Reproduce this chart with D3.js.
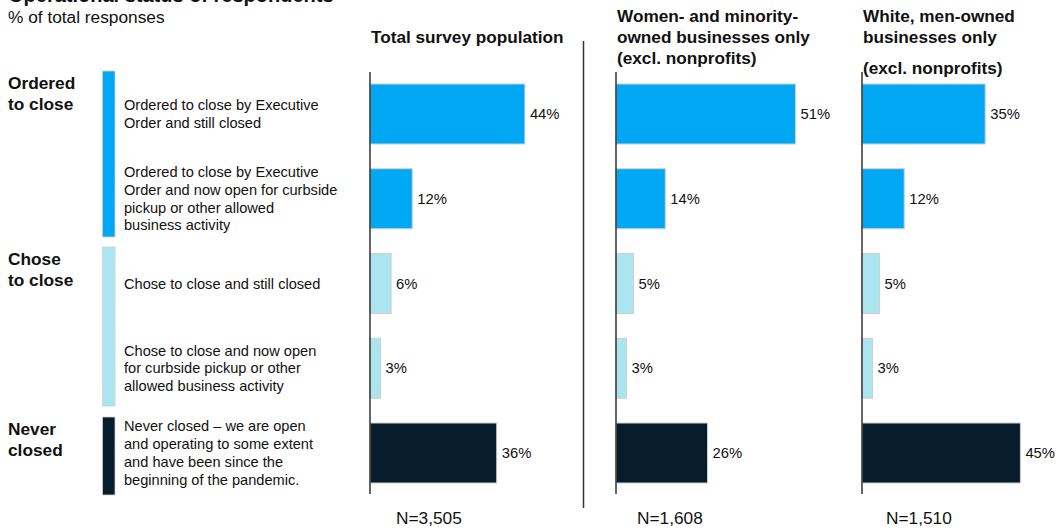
<!DOCTYPE html>
<html lang="en">
  <head>
    <meta charset="UTF-8" />
    <title>Operational status of respondents</title>
    <script src="https://cdn.jsdelivr.net/npm/d3@7"></script>
    <style>
      body {
        margin: 0;
        background: #fff;
      }
      svg {
        font-family: Arial, "Liberation Sans", sans-serif;
      }
    </style>
  </head>
  <body>
    <script>
      // data
      const items = [
        ["Ordered to close by Executive", "Order and still closed"],
        ["Ordered to close by Executive", "Order and now open for curbside", "pickup or other allowed", "business activity"],
        ["Chose to close and still closed"],
        ["Chose to close and now open", "for curbside pickup or other", "allowed business activity"],
        ["Never closed \u2013 we are open", "and operating to some extent", "and have been since the", "beginning of the pandemic."]
      ];
      const itemGroup = [0, 0, 1, 1, 2];
      const groups = [["Ordered", "to close"], ["Chose", "to close"], ["Never", "closed"]];
      const panelTitles = [
        ["Total survey population"],
        ["Women- and minority-", "owned businesses only", "(excl. nonprofits)"],
        ["White, men-owned", "businesses only", "(excl. nonprofits)"]
      ];
      const totalValues = [44, 12, 6, 3, 36];
      const minorityValues = [51, 14, 5, 3, 26];
      const whiteMenValues = [35, 12, 5, 3, 45];
      const sampleSizes = ["N=3,505", "N=1,608", "N=1,510"];

      const panels = [totalValues, minorityValues, whiteMenValues];
      const colors = ["#00a8f3", "#abe5ef", "#071d2c"];

      const width = 1058;
      const height = 529;
      const panelX = [370, 616, 862];

      const svg = d3.select("body")
        .append("svg")
        .attr("width", width)
        .attr("height", height);

      // header (title is cut by the top edge, as in the original)
      svg.append("text")
        .attr("x", 8)
        .attr("y", 2)
        .style("font-size", "20px")
        .style("font-weight", "bold")
        .attr("fill", "#111")
        .text("Operational status of respondents");
      svg.append("text")
        .attr("x", 8)
        .attr("y", 23)
        .style("font-size", "17.3px")
        .attr("fill", "#111")
        .text("% of total responses");

      const y = d3.scaleBand()
        .domain(d3.range(items.length))
        .range([84, 483])
        .paddingInner(0.292)
        .paddingOuter(0);

      const x = d3.scaleLinear().domain([0, 10]).range([0, 35.2]);

      // left colour strips and group labels
      const stripExtent = [[71, 237], [247, 406], [417, 495]];
      groups.forEach((g, i) => {
        svg.append("rect")
          .attr("x", 102.5)
          .attr("y", stripExtent[i][0])
          .attr("width", 12.5)
          .attr("height", stripExtent[i][1] - stripExtent[i][0])
          .attr("fill", colors[i])
          .attr("stroke", "#d0d0d0")
          .attr("stroke-width", 0.8);
        svg.append("text")
          .attr("x", 8)
          .attr("y", stripExtent[i][0] + 18)
          .style("font-size", "17.3px")
          .style("font-weight", "bold")
          .attr("fill", "#111")
          .selectAll("tspan")
          .data(g)
          .join("tspan")
          .attr("x", 8)
          .attr("dy", (d, j) => (j ? 21 : 0))
          .text(d => d);
      });

      // item labels
      items.forEach((lines, i) => {
        const cy = y(i) + y.bandwidth() / 2;
        const lh = 17.7;
        svg.append("text")
          .attr("x", 124)
          .attr("y", cy - ((lines.length - 1) * lh) / 2 + 5)
          .style("font-size", "14.6px")
          .attr("fill", "#111")
          .selectAll("tspan")
          .data(lines)
          .join("tspan")
          .attr("x", 124)
          .attr("dy", (d, j) => (j ? lh : 0))
          .text(d => d);
      });

      // panels
      panels.forEach((values, p) => {
        const g = svg.append("g").attr("transform", "translate(" + panelX[p] + ",0)");

        g.selectAll("rect")
          .data(values)
          .join("rect")
          .attr("x", 0)
          .attr("y", (d, i) => y(i))
          .attr("width", d => x(d))
          .attr("height", y.bandwidth())
          .attr("fill", (d, i) => colors[itemGroup[i]])
          .attr("stroke", "#cfcfcf")
          .attr("stroke-width", 1);

        g.selectAll(".val")
          .data(values)
          .join("text")
          .attr("class", "val")
          .attr("x", d => x(d) + 5)
          .attr("y", (d, i) => y(i) + y.bandwidth() / 2 + 5)
          .style("font-size", "14.8px")
          .attr("fill", "#111")
          .text(d => d + "%");

        g.append("line")
          .attr("x1", 0)
          .attr("x2", 0)
          .attr("y1", 72)
          .attr("y2", 494)
          .attr("stroke", "#333")
          .attr("stroke-width", 1.5);

        const titleLines = panelTitles[p];
        const t = g.append("text")
          .attr("y", titleLines.length === 1 ? 43 : 22)
          .style("font-size", "17.2px")
          .style("font-weight", "bold")
          .attr("fill", "#111");
        t.selectAll("tspan")
          .data(titleLines)
          .join("tspan")
          .attr("x", 1)
          .attr("dy", (d, j) => (j === 0 ? 0 : p === 2 && j === 2 ? 31 : 21))
          .text(d => d);

        g.append("text")
          .attr("x", [26, 21, 24][p])
          .attr("y", 524)
          .style("font-size", "17.3px")
          .attr("fill", "#111")
          .text(sampleSizes[p]);
      });

      // separator between total and sub-groups
      svg.append("line")
        .attr("x1", 583.5)
        .attr("x2", 583.5)
        .attr("y1", 41)
        .attr("y2", 508)
        .attr("stroke", "#333")
        .attr("stroke-width", 1.5);
    </script>
  </body>
</html>
